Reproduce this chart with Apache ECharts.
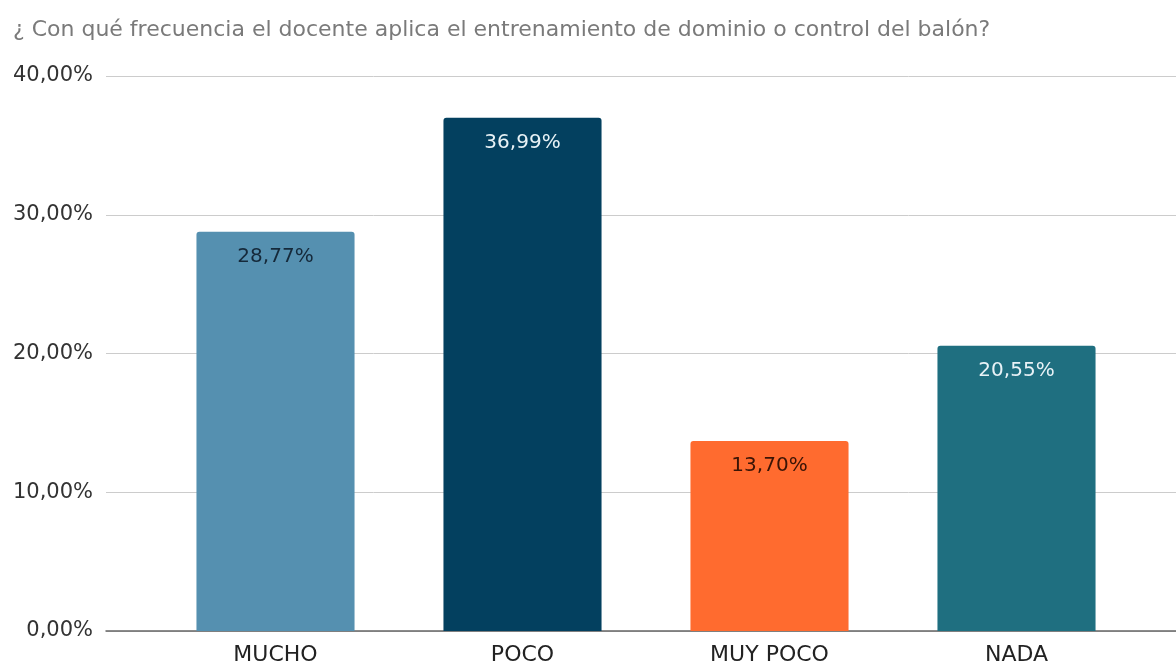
<!DOCTYPE html>
<html>
<head>
<meta charset="utf-8">
<title>Frecuencia de entrenamiento</title>
<script src="https://cdn.jsdelivr.net/npm/echarts@6/dist/echarts.min.js"></script>
<style>
  html, body { margin: 0; padding: 0; background: #ffffff; }
  #chart { width: 1176px; height: 666px; }
</style>
</head>
<body>
<div id="chart"></div>
<script>
// Survey answers and their share of respondents (%)
const categories = ['MUCHO', 'POCO', 'MUY POCO', 'NADA'];
const values = [28.77, 36.99, 13.70, 20.55];
const barColors = ['#5590b0', '#03405f', '#ff6b2f', '#1f6f80'];
const labelColors = ['#15293a', '#e8f2f6', '#3a1406', '#e8f2f6'];
const yTicks = [0, 10, 20, 30, 40];

const titleText = '¿ Con qué frecuencia el docente aplica el entrenamiento de dominio o control del balón?';
const fontFamily = '"DejaVu Sans", "Liberation Sans", sans-serif';

const pct = v => v.toFixed(2).replace('.', ',') + '%';

const chart = echarts.init(document.getElementById('chart'), null, { renderer: 'canvas' });

chart.setOption({
  animation: false,
  backgroundColor: '#ffffff',
  textStyle: { fontFamily: fontFamily },
  title: {
    text: titleText,
    left: 8,
    top: 14,
    textStyle: { fontFamily: fontFamily, fontSize: 22, fontWeight: 'normal', color: '#7a7a7a' }
  },
  grid: [
    // wide grid: gridlines, y labels and baseline
    { left: 106, right: 0, top: 76, bottom: 35 },
    // inner grid: bars and category labels
    { left: 152, right: 36, top: 76, bottom: 35 }
  ],
  xAxis: [
    {
      gridIndex: 0, type: 'value', min: 0, max: 1,
      axisLine: { show: true, lineStyle: { color: '#666666', width: 1.5 } },
      axisTick: { show: false }, axisLabel: { show: false }, splitLine: { show: false }
    },
    {
      gridIndex: 1, type: 'category', data: categories,
      axisLine: { show: false }, axisTick: { show: false },
      axisLabel: { color: '#222222', fontSize: 22, fontFamily: fontFamily, margin: 13 }
    }
  ],
  yAxis: [
    {
      gridIndex: 0, type: 'value', min: yTicks[0], max: yTicks[yTicks.length - 1], interval: 10,
      axisLine: { show: false }, axisTick: { show: false },
      axisLabel: { formatter: v => pct(v), color: '#333333', fontSize: 21, fontFamily: fontFamily, margin: 13 },
      splitLine: { lineStyle: { color: '#cccccc', width: 1 } }
    },
    {
      gridIndex: 1, type: 'value', min: yTicks[0], max: yTicks[yTicks.length - 1], interval: 10,
      show: false
    }
  ],
  series: [
    {
      type: 'bar',
      xAxisIndex: 1,
      yAxisIndex: 1,
      barWidth: '64%',
      data: values.map((v, i) => ({
        value: v,
        itemStyle: { color: barColors[i], borderRadius: [3, 3, 0, 0] },
        label: { color: labelColors[i] }
      })),
      label: {
        show: true,
        position: 'insideTop',
        distance: 15,
        fontSize: 20,
        fontFamily: fontFamily,
        formatter: p => pct(p.value)
      }
    }
  ]
});
</script>
</body>
</html>
